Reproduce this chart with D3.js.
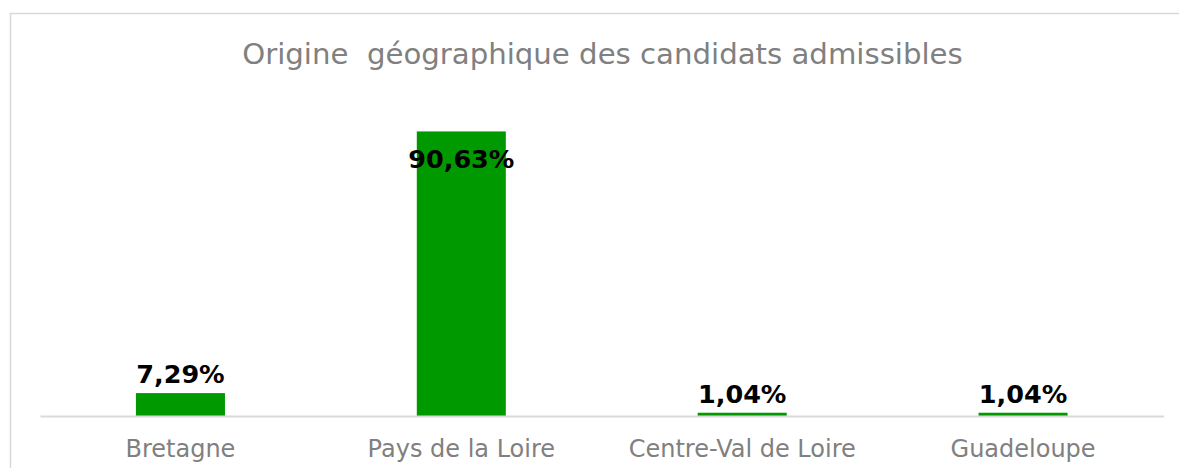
<!DOCTYPE html>
<html>
<head>
<meta charset="utf-8">
<script src="https://cdn.jsdelivr.net/npm/d3@7"></script>
<style>
  body { margin: 0; background: #fff; }
  svg { display: block; }
</style>
</head>
<body>
<div id="chart"></div>
<script>
const categories = ["Bretagne", "Pays de la Loire", "Centre-Val de Loire", "Guadeloupe"];
const values = [7.29, 90.63, 1.04, 1.04];
const valueLabels = ["7,29%", "90,63%", "1,04%", "1,04%"];
const title = "Origine  géographique des candidats admissibles";

const W = 1179, H = 468;
const svg = d3.select("#chart").append("svg")
    .attr("width", W)
    .attr("height", H)

// chart frame
svg.append("rect")
    .attr("x", 10.5).attr("y", 13.5)
    .attr("width", W).attr("height", H)
    .attr("fill", "none")
    .attr("stroke", "#d9d9d9")
    .attr("stroke-width", 1.5)

const plot = { left: 40, right: 1163.5, top: 102, bottom: 416 };

const x = d3.scaleBand()
    .domain(categories)
    .range([plot.left, plot.right])
    .paddingInner(0.683)
    .paddingOuter(0.3415)

const y = d3.scaleLinear()
    .domain([0, 100])
    .range([plot.bottom, plot.top])

svg.append("text")
    .attr("x", 602.5)
    .attr("y", 64)
    .attr("text-anchor", "middle")
    .style("white-space", "pre")
    .attr("font-family", "DejaVu Sans, Verdana, sans-serif")
    .attr("font-size", 29.2)
    .attr("fill", "#808080")
    .text(title)

svg.selectAll("rect.bar")
    .data(values)
    .enter()
    .append("rect")
    .attr("class", "bar")
    .attr("x", (d, i) => x(categories[i]))
    .attr("y", d => y(d))
    .attr("width", x.bandwidth())
    .attr("height", d => plot.bottom - y(d))
    .attr("fill", "#009900")

// baseline
const xAxis = svg.append("g")
    .attr("transform", `translate(0,${plot.bottom})`)
    .call(d3.axisBottom(x).tickSize(0).tickPadding(24))

xAxis.select(".domain")
    .attr("stroke", "#d9d9d9")
    .attr("stroke-width", 2)

xAxis.selectAll("text")
    .attr("font-family", "DejaVu Sans, Verdana, sans-serif")
    .attr("font-size", 24)
    .attr("fill", "#808080")

svg.selectAll("text.val")
    .data(values)
    .enter()
    .append("text")
    .attr("class", "val")
    .attr("x", (d, i) => x(categories[i]) + x.bandwidth() / 2)
    .attr("y", d => d > 50 ? y(d) + 36.5 : y(d) - 10)
    .attr("text-anchor", "middle")
    .attr("font-family", "DejaVu Sans, Verdana, sans-serif")
    .attr("font-weight", "bold")
    .attr("font-size", 25.5)
    .attr("fill", "#000")
    .text((d, i) => valueLabels[i])
</script>
</body>
</html>
